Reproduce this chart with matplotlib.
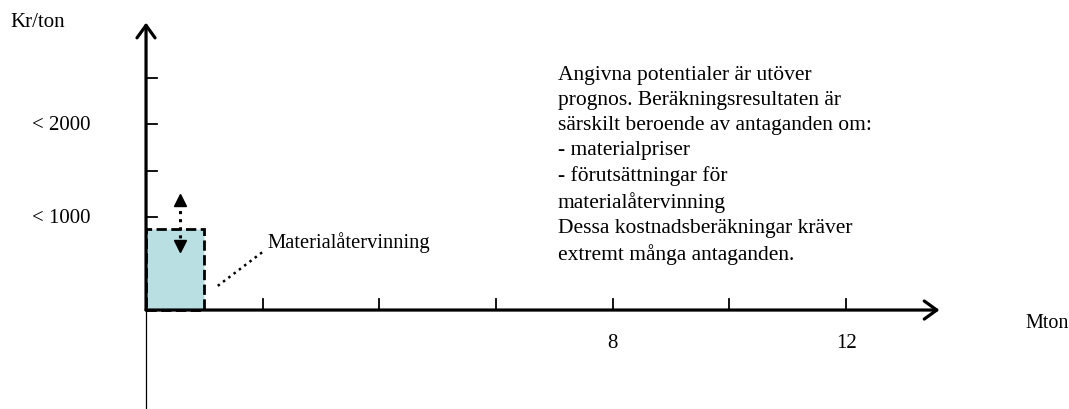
import matplotlib
matplotlib.use('Agg')
import matplotlib.pyplot as plt
from matplotlib.patches import FancyArrowPatch

plt.rcParams['font.family'] = ['Liberation Serif', 'DejaVu Serif']

# ---- data ----
bar_x = [0.0]            # Mton, start
bar_width = [1.0]        # Mton
bar_height = [870]       # Kr/ton
bar_label = 'Materialåtervinning'
range_x = 0.58           # Mton, osäkerhetspil
range_low, range_high = 620, 1250

y_ticks = [500, 1000, 1500, 2000, 2500]
y_tick_labels = ['', '< 1000', '', '< 2000', '']
x_ticks = [2, 4, 6, 8, 10, 12]
x_tick_labels = ['', '', '', '8', '', '12']

x_axis_end = 13.6
y_axis_end = 3090
y_axis_bottom = -1050

note = ("Angivna potentialer är utöver\n"
        "prognos. Beräkningsresultaten är\n"
        "särskilt beroende av antaganden om:\n"
        "- materialpriser\n"
        "- förutsättningar för\n"
        "materialåtervinning\n"
        "Dessa kostnadsberäkningar kräver\n"
        "extremt många antaganden.")

# ---- figure ----
fig = plt.figure(figsize=(10.69, 4.10), dpi=100)
ax = fig.add_axes([0, 0, 1, 1])
ax.set_xlim(-2.503, 15.82)
ax.set_ylim(-1064, 3344)
ax.axis('off')

# bar
ax.bar(bar_x, bar_height, width=bar_width, align='edge', color='#b9dfe3',
       edgecolor='black', linestyle='--', linewidth=2, zorder=2)

# axes with arrows
arrow_kw = dict(arrowstyle='->,head_length=9,head_width=6.5', mutation_scale=1,
                color='black', linewidth=2.3, shrinkA=0, shrinkB=0, zorder=3)
ax.add_patch(FancyArrowPatch((0, 0), (0, y_axis_end), **arrow_kw))
ax.add_patch(FancyArrowPatch((0, 0), (x_axis_end, 0), **arrow_kw))
ax.plot([0, 0], [y_axis_bottom, 0], color='black', linewidth=0.9, zorder=3)

# ticks (under the bar)
for yt, lab in zip(y_ticks, y_tick_labels):
    ax.plot([0, 0.19], [yt, yt], color='black', linewidth=1.3, zorder=1)
    if lab:
        ax.text(-0.96, yt, lab, ha='right', va='center', fontsize=15)
for xt, lab in zip(x_ticks, x_tick_labels):
    ax.plot([xt, xt], [0, 120], color='black', linewidth=1.3, zorder=1)
    if lab:
        ax.text(xt, -350, lab, ha='center', va='center', fontsize=15)

# axis labels
ax.text(-2.33, 3100, 'Kr/ton', ha='left', va='center', fontsize=15)
ax.text(15.07, -130, 'Mton', ha='left', va='center', fontsize=14.5)

# uncertainty double arrow
head = 70
ax.plot([range_x, range_x], [range_low + head, range_high - head],
        color='black', linestyle=':', linewidth=2.2, zorder=4)
ax.plot([range_x], [range_high - head], marker='^', markersize=9,
        color='black', linestyle='none', zorder=4)
ax.plot([range_x], [range_low + head], marker='v', markersize=9,
        color='black', linestyle='none', zorder=4)

# label with dotted leader
ax.plot([1.23, 2.01], [260, 630], color='black', linestyle=':',
        linewidth=1.8, zorder=4)
ax.text(2.08, 740, bar_label, ha='left', va='center', fontsize=14.8)

# note
ax.text(7.06, 2630, note, ha='left', va='top', fontsize=15.5,
        linespacing=1.41)

fig.savefig('out.png', dpi=100)
